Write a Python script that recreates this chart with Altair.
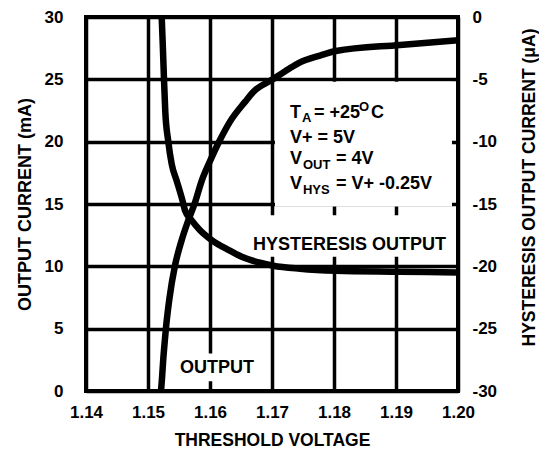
import altair as alt
import pandas as pd

FONT = "Liberation Sans"

# Output current (mA) vs threshold voltage (left axis)
out_v = [1.15210, 1.15226, 1.15247, 1.15274, 1.15290, 1.15344, 1.15435, 1.15544,
         1.15650, 1.15758, 1.15866, 1.16000, 1.16150, 1.16323, 1.16565, 1.16698,
         1.17021, 1.17263, 1.17452, 1.17774, 1.18032, 1.19065, 1.20]
out_ma = [0, 1.03, 2.61, 4.19, 5.07, 7.36, 10.05, 12.11, 13.69, 15.12, 16.86, 18.44,
          20.03, 21.61, 23.19, 23.99, 25.02, 25.81, 26.36, 26.91, 27.27, 27.76, 28.14]

# Hysteresis output current (uA) vs threshold voltage (right axis)
hys_v = [1.15221, 1.15237, 1.15258, 1.15279, 1.15327, 1.15382, 1.15463, 1.15556,
         1.15597, 1.15705, 1.15839, 1.16027, 1.16295, 1.16511, 1.16806, 1.17021,
         1.17452, 1.18032, 1.19065, 1.20]
hys_ua = [0, -2.06, -4.99, -7.60, -9.97, -11.79, -13.14, -14.72, -15.51, -16.31,
          -17.10, -17.89, -18.68, -19.23, -19.71, -19.95, -20.19, -20.35, -20.43, -20.5]

x_ticks = [1.14, 1.15, 1.16, 1.17, 1.18, 1.19, 1.20]
left_ticks = [0, 5, 10, 15, 20, 25, 30]
right_ticks = [-30, -25, -20, -15, -10, -5, 0]

# white label backgrounds (x1, x2, y1, y2 in left-axis units)
box_x1 = [1.17048, 1.16645, 1.15435]
box_x2 = [1.19903, 1.19903, 1.16806]
box_y1 = [14.8, 10.77, 0.79]
box_y2 = [24.8, 14.09, 3.01]

# curve labels
lab_text = ["HYSTERESIS OUTPUT", "OUTPUT"]
lab_x = [1.16694, 1.15516]
lab_y = [11.32, 1.43]

# conditions block
cond_x = 1.17290
line_y = [21.87, 19.89, 18.18, 16.20]
seg_text = ["T", "A", "= +25", "O", "C", "V+ = 5V", "V", "OUT", "= 4V", "V", "HYS", "= V+ -0.25V"]
seg_line = [0, 0, 0, 0, 0, 1, 2, 2, 2, 3, 3, 3]
seg_dx = [0, 12, 24, 69, 81, 0, 0, 13, 46, 0, 13, 46]
seg_dy = [0, 4, 0, -7, 0, 0, 0, 5, 0, 0, 5, 0]
seg_size = [18, 13, 18, 13, 18, 18, 18, 13, 18, 18, 13, 18]

xscale = alt.Scale(domain=[1.14, 1.20], nice=False, zero=False)
lscale = alt.Scale(domain=[0, 30], nice=False)
rscale = alt.Scale(domain=[-30, 0], nice=False)

x_axis = alt.Axis(values=x_ticks, format=".2f", grid=True, gridColor="black", gridWidth=3.5,
                  gridOpacity=1, domain=False, ticks=False, tickSize=0, labelPadding=13,
                  labelFontSize=17, labelFontWeight="bold", labelColor="black", labelFont=FONT,
                  labelFlush=False, labelOverlap=False,
                  title="THRESHOLD VOLTAGE", titleFontSize=17.5, titleFontWeight="bold",
                  titleFont=FONT, titleColor="black", titlePadding=11)
l_axis = alt.Axis(values=left_ticks, grid=True, gridColor="black", gridWidth=3.5, gridOpacity=1,
                  domain=False, ticks=False, tickSize=0, labelPadding=23, labelFontSize=17,
                  labelFontWeight="bold", labelColor="black", labelFont=FONT, labelFlush=False,
                  labelOverlap=False,
                  title="OUTPUT CURRENT (mA)", titleFontSize=18, titleFontWeight="bold",
                  titleFont=FONT, titleColor="black", titlePadding=10)
r_axis = alt.Axis(orient="right", values=right_ticks, grid=False, domain=False, ticks=False,
                  tickSize=0, labelPadding=14, labelFontSize=17, labelFontWeight="bold",
                  labelColor="black", labelFont=FONT, labelFlush=False, labelOverlap=False,
                  labelExpr="'' + datum.value",
                  title="HYSTERESIS OUTPUT CURRENT (\u03bcA)", titleFontSize=17.5,
                  titleFontWeight="bold", titleFont=FONT, titleColor="black",
                  titleAngle=-90, titleBaseline="top", titlePadding=24, titleY=170)

out_df = pd.DataFrame({"v": out_v, "y": out_ma})
hys_df = pd.DataFrame({"v": hys_v, "y": hys_ua})
box_df = pd.DataFrame({"v": box_x1, "v2": box_x2, "y": box_y1, "y2": box_y2})
lab_df = pd.DataFrame({"v": lab_x, "y": lab_y, "t": lab_text})


def X():
    return alt.X("v:Q", scale=xscale, axis=x_axis)


def YL():
    return alt.Y("y:Q", scale=lscale, axis=l_axis)


out_line = alt.Chart(out_df).mark_line(color="black", strokeWidth=6.5, interpolate="monotone",
                                       strokeCap="butt").encode(x=X(), y=YL())

boxes = alt.Chart(box_df).mark_rect(color="white", opacity=1).encode(
    x=X(), x2="v2:Q", y=YL(), y2="y2:Q",
)

labels = alt.Chart(lab_df).mark_text(align="left", baseline="alphabetic", font=FONT,
                                     fontSize=18, fontWeight="bold", color="black").encode(
    x=X(), y=YL(), text="t:N",
)

seg_layers = []
for i, t in enumerate(seg_text):
    df = pd.DataFrame({"v": [cond_x], "y": [line_y[seg_line[i]]], "t": [t]})
    seg_layers.append(
        alt.Chart(df).mark_text(align="left", baseline="alphabetic", font=FONT,
                                fontSize=seg_size[i], fontWeight="bold", color="black",
                                dx=seg_dx[i], dy=seg_dy[i]).encode(
            x=X(), y=YL(), text="t:N",
        )
    )

hys_line = alt.Chart(hys_df).mark_line(color="black", strokeWidth=6.5, interpolate="monotone",
                                       strokeCap="butt").encode(
    x=X(),
    y=alt.Y("y:Q", scale=rscale, axis=r_axis),
)

left = alt.layer(boxes, out_line, labels, *seg_layers)
chart = alt.layer(left, hys_line).resolve_scale(y="independent").properties(
    width=372, height=374,
    padding={"left": 78, "top": 9, "right": 81, "bottom": 58},
    autosize=alt.AutoSizeParams(type="none"),
).configure_view(stroke="black", strokeWidth=4)

chart.save("out.html", embed_options={"renderer": "svg", "actions": False})
